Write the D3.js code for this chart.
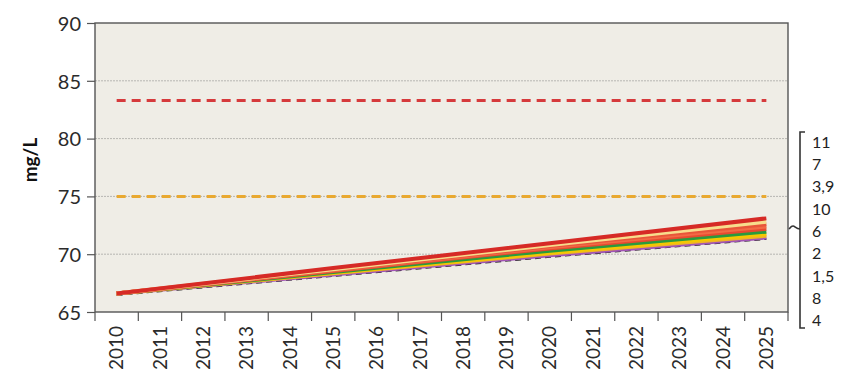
<!DOCTYPE html>
<html>
<head>
<meta charset="utf-8">
<script src="https://cdn.jsdelivr.net/npm/d3@7"></script>
<style>
  body { margin: 0; background: #fff; }
  svg text { font-family: Lato, "Open Sans", sans-serif; fill: #2b2b2b; }
</style>
</head>
<body>
<div id="graph"></div>
<script>
// Chart data
const years = d3.range(2010, 2026).map(String);
const yTicks = [65, 70, 75, 80, 85, 90];
const seriesNames = ["11", "7", "3,9", "10", "6", "2", "1,5", "8", "4"];
const seriesColors = ["#d62a26", "#f7dc8c", "#e8553a", "#f26a45", "#e84a30", "#2a9a3e", "#f5c800", "#f0b428", "#a055b5"];
// values at 2010, 2015, 2020, 2025 for each series (same order as seriesNames)
const keyYears = ["2010", "2015", "2020", "2025"];
const seriesValues = [
  [66.6, 68.8, 70.95, 73.1],
  [66.6, 68.7, 70.8, 72.8],
  [66.6, 68.65, 70.7, 72.6],
  [66.6, 68.6, 70.6, 72.4],
  [66.6, 68.55, 70.5, 72.2],
  [66.6, 68.45, 70.3, 71.95],
  [66.6, 68.4, 70.15, 71.75],
  [66.6, 68.35, 70.05, 71.6],
  [66.6, 68.25, 69.9, 71.45]
];
const blackDashed = [66.6, 68.25, 69.9, 71.45];
const limitRed = 83.3;
const limitOrange = 75;

// Graph constants
const w = 851;
const h = 381;
const pLeft = 95, pRight = 788, pTop = 23, pBottom = 312;

const svg = d3.select("#graph")
              .append("svg")
              .attr("width", w)
              .attr("height", h);

const xScale = d3.scaleBand()
                 .domain(years)
                 .range([pLeft, pRight])
                 .padding(0);
const yScale = d3.scaleLinear()
                 .domain([65, 90])
                 .range([pBottom, pTop]);
const xc = d => xScale(d) + xScale.bandwidth() / 2;

// plot area background
svg.append("rect")
   .attr("x", pLeft)
   .attr("y", pTop)
   .attr("width", pRight - pLeft)
   .attr("height", pBottom - pTop)
   .style("fill", "#efede6");

// gridlines
svg.append("g")
   .selectAll("line")
   .data(yTicks.slice(1, -1))
   .enter()
   .append("line")
   .attr("x1", pLeft)
   .attr("x2", pRight)
   .attr("y1", d => yScale(d))
   .attr("y2", d => yScale(d))
   .style("stroke", "#a8a8a4")
   .style("stroke-width", 0.8)
   .style("stroke-dasharray", "2,1");

// y axis
const yAxis = d3.axisLeft(yScale)
                .tickValues(yTicks)
                .tickSize(8)
                .tickPadding(6);
const gy = svg.append("g")
   .attr("transform", "translate(" + pLeft + ",0)")
   .call(yAxis);
gy.select(".domain").remove();
gy.selectAll("line").style("stroke", "#555").style("stroke-width", 1.2);
gy.selectAll("text").style("font-size", "20px").attr("dy", "0.36em").style("fill", "#2b2b2b");

// x axis (ticks between categories)
const xAxis = d3.axisBottom(xScale).tickSize(0).tickPadding(0);
const gx = svg.append("g")
   .attr("transform", "translate(0," + pBottom + ")")
   .call(xAxis);
gx.select(".domain").remove();
gx.selectAll("text")
  .attr("transform", "rotate(-90)")
  .attr("x", -14)
  .attr("y", 0)
  .attr("dy", "0.35em")
  .style("text-anchor", "end")
  .style("font-size", "19px")
  .style("fill", "#2b2b2b");
svg.append("g")
   .selectAll("line")
   .data(years.concat(["end"]))
   .enter()
   .append("line")
   .attr("x1", (d, i) => pLeft + i * xScale.bandwidth())
   .attr("x2", (d, i) => pLeft + i * xScale.bandwidth())
   .attr("y1", pBottom)
   .attr("y2", pBottom + 9)
   .style("stroke", "#555")
   .style("stroke-width", 1.2);

// frame
svg.append("rect")
   .attr("x", pLeft)
   .attr("y", pTop)
   .attr("width", pRight - pLeft)
   .attr("height", pBottom - pTop)
   .style("fill", "none")
   .style("stroke", "#555")
   .style("stroke-width", 1.4);

// limit lines
[[limitRed, "#d63a3c"], [limitOrange, "#e9a930"]].forEach(([v, c]) => {
  svg.append("line")
     .attr("x1", xc("2010"))
     .attr("x2", xc("2025"))
     .attr("y1", yScale(v))
     .attr("y2", yScale(v))
     .style("stroke", c)
     .style("stroke-width", 3)
     .style("stroke-dasharray", "9,6");
});

const line = d3.line()
               .x(d => xc(d[0]))
               .y(d => yScale(d[1]));

// black dashed series underneath
svg.append("path")
   .datum(keyYears.map((y, i) => [y, blackDashed[i]]))
   .attr("d", line)
   .attr("transform", "translate(0,1.5)")
   .style("fill", "none")
   .style("stroke", "#222")
   .style("stroke-width", 2)
   .style("stroke-dasharray", "6,4");

// scenario lines, bottom one drawn first
const order = d3.range(seriesNames.length).reverse();
svg.append("g")
   .selectAll("path")
   .data(order)
   .enter()
   .append("path")
   .attr("d", i => line(keyYears.map((y, j) => [y, seriesValues[i][j]])))
   .style("fill", "none")
   .style("stroke", i => seriesColors[i])
   .style("stroke-width", 4)
   .style("stroke-linecap", "butt");

// y label
svg.append("text")
   .text("mg/L")
   .attr("transform", "translate(37,160) rotate(-90)")
   .style("text-anchor", "middle")
   .style("font-size", "19px")
   .style("font-weight", "bold")
   .style("fill", "#111");

// legend bracket
const legend = svg.append("g").attr("id", "legend");
legend.append("path")
      .attr("d", "M805,132 H800 V328 H805")
      .style("fill", "none")
      .style("stroke", "#333")
      .style("stroke-width", 1.6);
legend.append("path")
      .attr("d", "M800,229 C796,229 795,226 793,226 C791,226 790,228 789,229")
      .style("fill", "none")
      .style("stroke", "#333")
      .style("stroke-width", 1.6);
legend.selectAll("text")
      .data(seriesNames)
      .enter()
      .append("text")
      .text(d => d)
      .attr("x", 812)
      .attr("y", (d, i) => 142 + i * 22.3)
      .attr("dy", "0.36em")
      .style("font-size", "16px")
      .style("fill", "#222");
</script>
</body>
</html>
